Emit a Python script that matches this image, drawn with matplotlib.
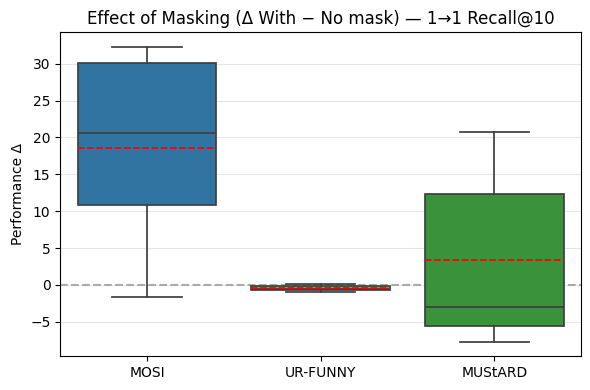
import matplotlib
matplotlib.use("Agg")
import matplotlib.pyplot as plt

categories = ["MOSI", "UR-FUNNY", "MUStARD"]
whisker_low = [-1.6, -1.0, -7.7]
q1 = [10.9, -0.75, -5.6]
median = [20.6, -0.5, -3.0]
q3 = [30.1, -0.1, 12.35]
whisker_high = [32.3, 0.1, 20.8]
mean = [18.5, -0.42, 3.4]
colors = ["#3274a1", "#e1812c", "#3a923a"]

fig, ax = plt.subplots(figsize=(5.9, 3.9), dpi=100)

stats = []
for i, c in enumerate(categories):
    stats.append(dict(label=c, whislo=whisker_low[i], q1=q1[i], med=median[i],
                      q3=q3[i], whishi=whisker_high[i], mean=mean[i], fliers=[]))

line_c = "#3f3f3f"
bp = ax.bxp(stats, positions=range(len(categories)), widths=0.8, patch_artist=True,
            showmeans=True, meanline=True,
            boxprops=dict(edgecolor=line_c, linewidth=1.25),
            whiskerprops=dict(color=line_c, linewidth=1.25),
            capprops=dict(color=line_c, linewidth=1.25),
            medianprops=dict(color=line_c, linewidth=1.25),
            meanprops=dict(color="red", linestyle="--", linewidth=1.25),
            capwidths=0.4, zorder=2)
for patch, col in zip(bp["boxes"], colors):
    patch.set_facecolor(col)

ax.axhline(0, color="#aaaaaa", linestyle="--", linewidth=1.5, zorder=1)
ax.set_xlim(-0.5, 2.5)
ax.set_ylim(-9.65, 34.3)
ax.set_xticks(range(len(categories)))
ax.set_xticklabels(categories)
ax.yaxis.grid(True, color="#e5e5e5", linewidth=0.8)
ax.set_axisbelow(True)
ax.set_ylabel("Performance Δ")
ax.set_title("Effect of Masking (Δ With − No mask) — 1→1 Recall@10")
fig.subplots_adjust(left=0.102, right=0.985, top=0.918, bottom=0.087)
fig.savefig("out.png", dpi=100)
